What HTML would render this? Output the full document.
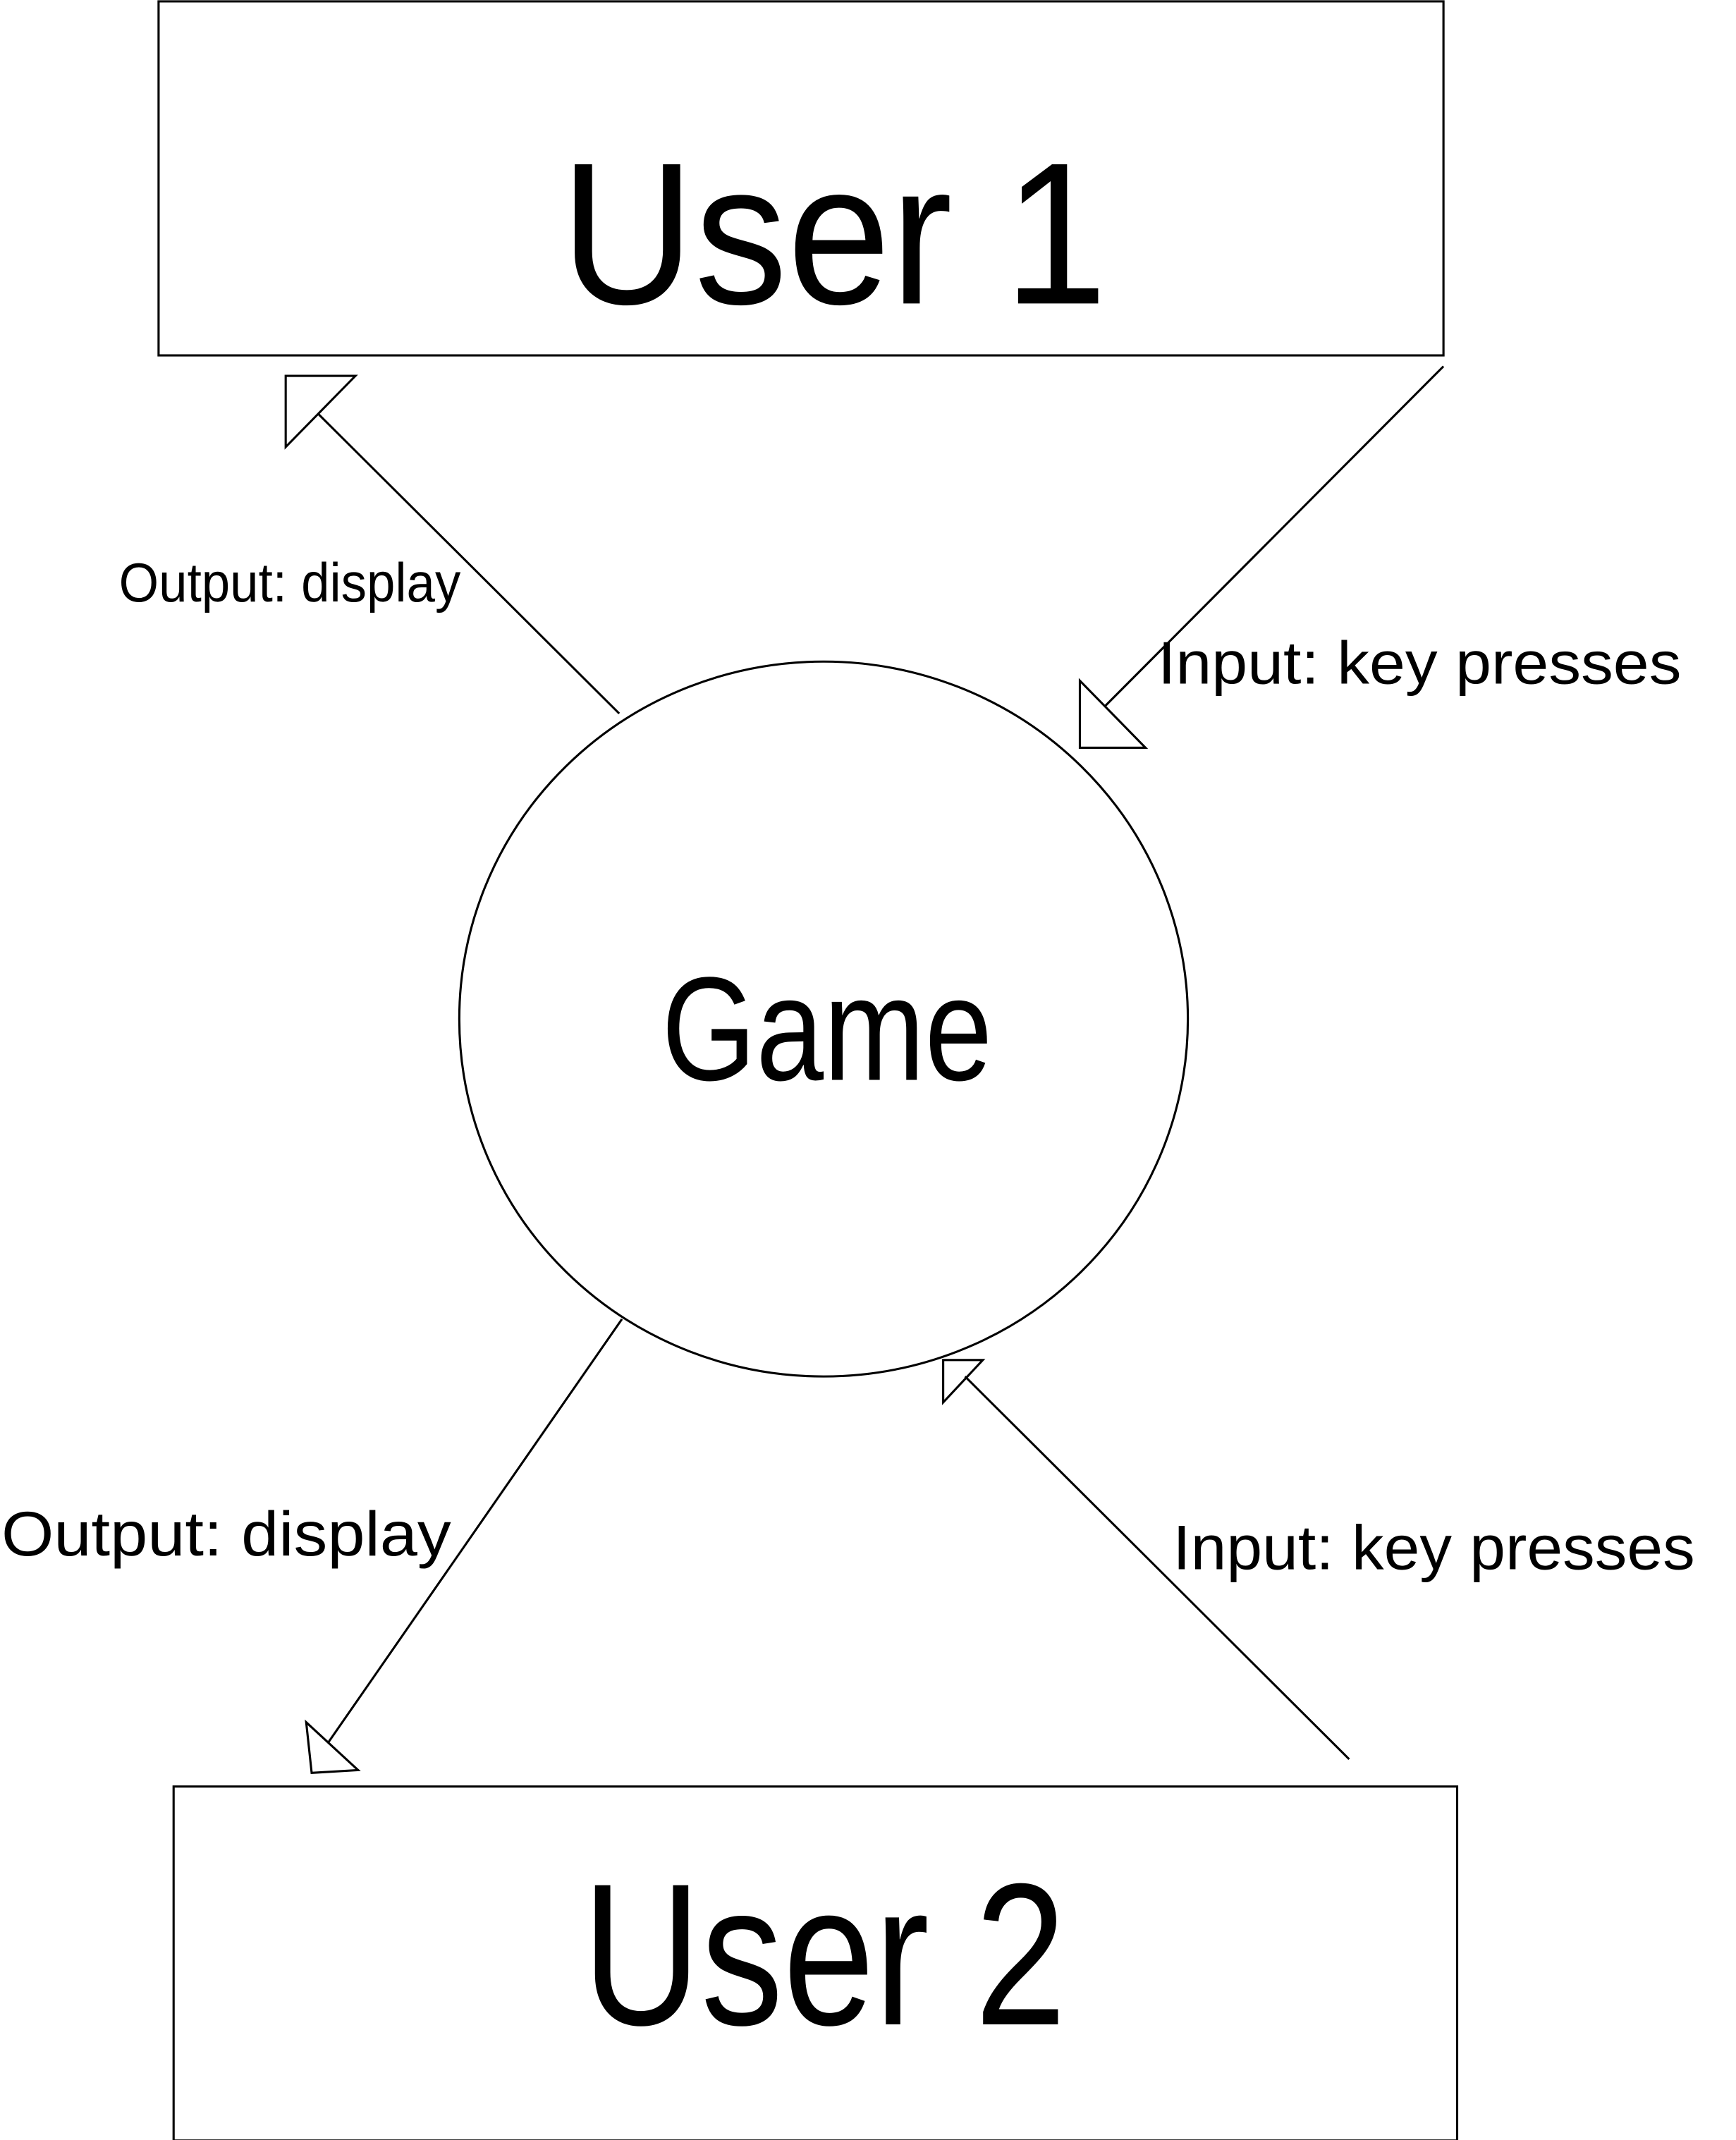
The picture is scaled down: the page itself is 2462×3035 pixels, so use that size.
<!DOCTYPE html>
<html>
<head>
<meta charset="utf-8">
<style>
html,body{margin:0;padding:0;background:#fff;}
svg{display:block;}
text{font-family:"Liberation Sans","DejaVu Sans",sans-serif;fill:#000;}
</style>
</head>
<body>
<svg width="2462" height="3035" viewBox="0 0 1270 1565.6" xmlns="http://www.w3.org/2000/svg">
<g fill="none" stroke="#000" stroke-width="1.6">
<rect x="116" y="1" width="940" height="259"/>
<rect x="127" y="1307" width="939" height="259"/>
<ellipse cx="602.5" cy="745.5" rx="266.5" ry="261.5"/>
<line x1="453" y1="522" x2="233" y2="303"/>
<polygon points="209,275 260,275 209,327"/>
<line x1="1056" y1="268" x2="808" y2="517"/>
<polygon points="790,498 790,547 838,547"/>
<line x1="455" y1="965" x2="240" y2="1275"/>
<polygon points="224,1260 262,1295 228,1297"/>
<line x1="987" y1="1287" x2="706" y2="1007"/>
<polygon points="690,995 719,995 690,1026"/>
</g>
<text x="410" y="222" font-size="148" textLength="400" lengthAdjust="spacingAndGlyphs">User 1</text>
<text x="484" y="790" font-size="108" textLength="242" lengthAdjust="spacingAndGlyphs">Game</text>
<text x="426" y="1481" font-size="148" textLength="354" lengthAdjust="spacingAndGlyphs">User 2</text>
<text x="87" y="440" font-size="40" textLength="250" lengthAdjust="spacingAndGlyphs">Output: display</text>
<text x="847" y="500" font-size="44" textLength="383" lengthAdjust="spacingAndGlyphs">Input: key presses</text>
<text x="1" y="1138" font-size="46" textLength="329" lengthAdjust="spacingAndGlyphs">Output: display</text>
<text x="858" y="1148" font-size="46" textLength="382" lengthAdjust="spacingAndGlyphs">Input: key presses</text>
</svg>
</body>
</html>
